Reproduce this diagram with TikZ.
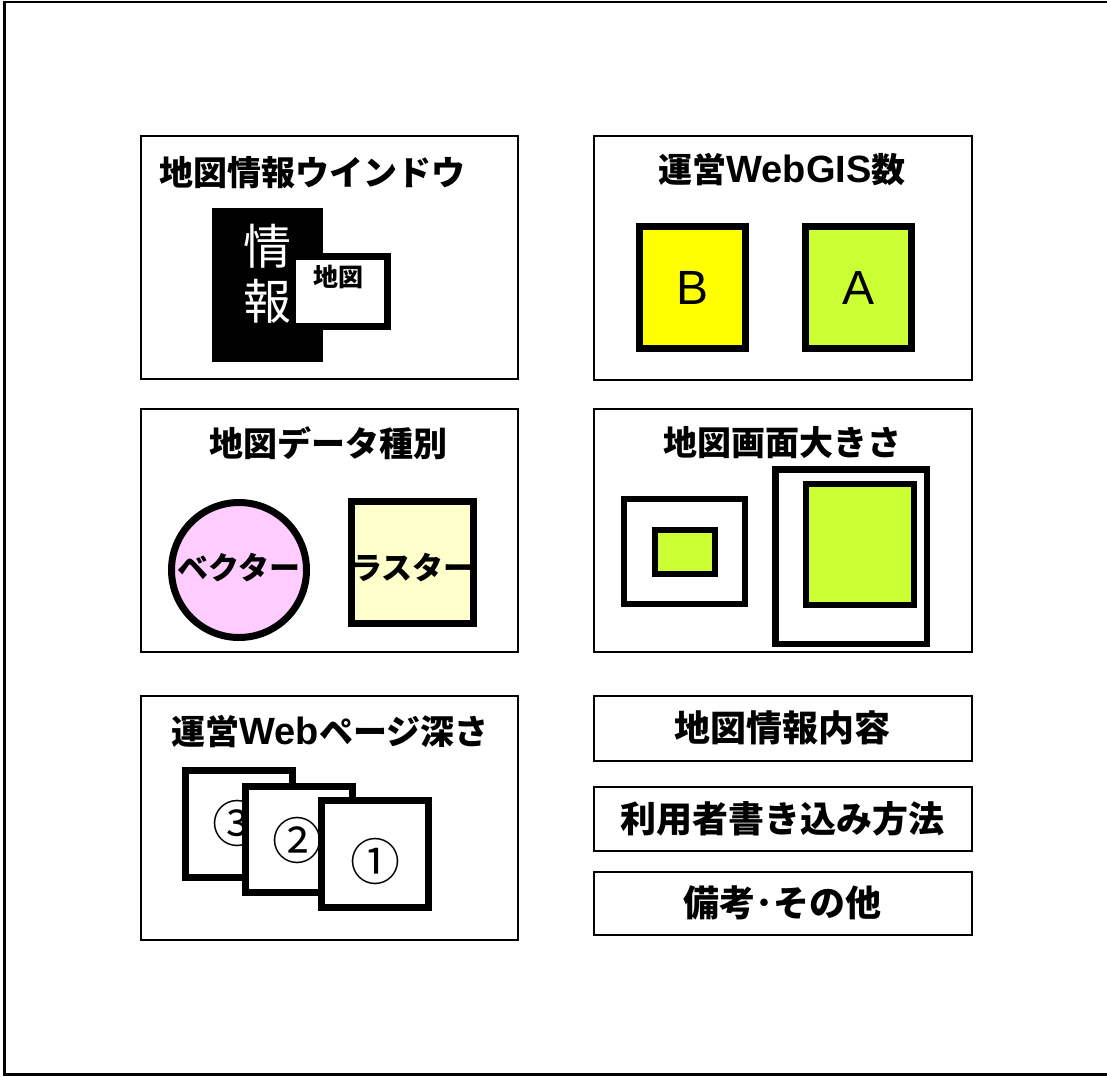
\documentclass[tikz,border=0pt]{standalone}
\usepackage{fontspec}
\setmainfont{Noto Sans CJK JP}
\newfontfamily\latfont{Liberation Sans}
\definecolor{limeg}{HTML}{CCFF33}
\definecolor{yel}{HTML}{FFFF00}
\definecolor{pinkf}{HTML}{FFCCFF}
\definecolor{lyel}{HTML}{FFFFCC}
\newcommand{\myttl}{\bfseries\fontsize{34}{40}\selectfont}
\newcommand{\mybig}{\bfseries\fontsize{36}{40}\selectfont}
\newcommand{\mylat}[1]{{\latfont\bfseries\fontsize{38}{40}\selectfont #1}}
\begin{document}
\begin{tikzpicture}[x=1pt,y=-1pt,
  panel/.style={draw=black,line width=2pt},
  heavy/.style={draw=black,line width=7pt},
  mid/.style={draw=black,line width=6pt},
  txt/.style={inner sep=0pt,anchor=center},
  circnum/.style={txt,font=\fontsize{50}{50}\selectfont}]
\useasboundingbox (0,0) rectangle (1107,1076);
% outer frame (open on the right)
\draw[line width=2.5pt] (1107,2) -- (4.5,2) -- (4.5,1074.5) -- (1107,1074.5);

% ---- panel 1: map info window
\draw[panel] (141,136) rectangle (518,379);
\node[txt] (t1) at (312,173) {\myttl 地図情報ウインドウ};
\fill[black] (212,208) rectangle (323,362);
\node[txt,text=white,font=\fontsize{48}{48}\selectfont] (jo) at (267,246) {情};
\node[txt,text=white,font=\fontsize{48}{48}\selectfont] (ho) at (267,301) {報};
\draw[heavy,fill=white] (292.5,256.5) rectangle (387.5,326.5);
\node[txt,font=\bfseries\fontsize{25}{25}\selectfont] (chizu) at (338,277) {地図};

% ---- panel 2: number of WebGIS
\draw[panel] (594,136) rectangle (972,380);
\node[txt] (t2) at (782,170) {\myttl 運営\mylat{WebGIS}数};
\draw[heavy,fill=yel] (639.5,226.5) rectangle (745.5,348.5);
\node[txt,font=\latfont\fontsize{48}{48}\selectfont] (B) at (692.5,288) {B};
\draw[heavy,fill=limeg] (805.5,226.5) rectangle (911.5,348.5);
\node[txt,font=\latfont\fontsize{48}{48}\selectfont] (A) at (858.5,288) {A};

% ---- panel 3: map data type
\draw[panel] (141,409) rectangle (518,652);
\node[txt] (t3) at (328,443) {\myttl 地図データ種別};
\draw[heavy,fill=pinkf] (239,570) circle (67.5);
\node[txt,font=\bfseries\fontsize{31}{31}\selectfont] (vec) at (239,568) {ベクター};
\draw[heavy,fill=lyel] (351.5,501.5) rectangle (473.5,623.5);
\node[txt,font=\bfseries\fontsize{31}{31}\selectfont] (ras) at (413,568) {ラスター};

% ---- panel 4: map screen size
\draw[panel] (594,409) rectangle (972,652);
\node[txt] (t4) at (782,443) {\myttl 地図画面大きさ};
\draw[mid,fill=white] (624,499) rectangle (745,604);
\draw[mid,fill=limeg] (655,530) rectangle (715,574);
\draw[line width=6.5pt,fill=white] (775.25,469.25) rectangle (926.75,643.75);
\draw[mid,fill=limeg] (806,484) rectangle (914,605);

% ---- panel 5: web page depth
\draw[panel] (141,696) rectangle (518,940);
\node[txt] (t5) at (330,732) {\myttl 運営\mylat{Web}ページ深さ};
\draw[heavy,fill=white] (185.5,770.5) rectangle (292.5,877.5);
\node[circnum] (n3) at (237,823) {③};
\draw[heavy,fill=white] (245.5,786.5) rectangle (352.5,892.5);
\node[circnum] (n2) at (297,840) {②};
\draw[heavy,fill=white] (321.5,800.5) rectangle (428.5,907.5);
\node[circnum] (n1) at (375,861) {①};

% ---- right-bottom boxes
\draw[panel] (594,696) rectangle (972,761);
\node[txt] (t6) at (782,728) {\mybig 地図情報内容};
\draw[panel] (594,787) rectangle (972,851);
\node[txt] (t7) at (782,819) {\mybig 利用者書き込み方法};
\draw[panel] (594,872) rectangle (972,935);
\node[txt] (t8) at (782,903) {\mybig 備考･その他};
\end{tikzpicture}
\end{document}
